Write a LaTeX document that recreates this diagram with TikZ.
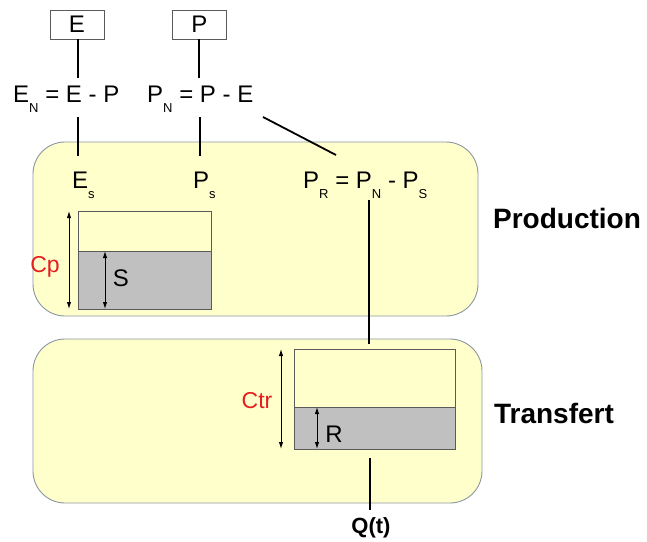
\documentclass[tikz,border=0pt]{standalone}
\usepackage{fontspec}
\setmainfont{Liberation Sans}
\usetikzlibrary{arrows.meta}
\definecolor{boxfill}{RGB}{255,255,204}
\definecolor{boxline}{RGB}{140,150,160}
\definecolor{tankgray}{RGB}{192,192,192}
\definecolor{tankline}{RGB}{90,90,90}
\definecolor{labred}{RGB}{230,30,30}
\newcommand{\lsub}[1]{\raisebox{-0.42em}{\fontsize{13}{13}\selectfont #1}}
\begin{document}
\begin{tikzpicture}[x=1pt,y=-1pt,
  region/.style={draw=boxline, fill=boxfill, line width=0.9pt, rounded corners=32pt, inner sep=0pt},
  txt/.style={inner sep=0pt, font=\fontsize{24}{24}\selectfont},
  topbox/.style={draw=tankline, line width=0.8pt, minimum width=54pt, minimum height=29pt, inner sep=0pt, font=\fontsize{24}{24}\selectfont},
  conn/.style={line width=1.8pt, black},
  dim/.style={line width=1pt, {Latex[length=7pt,width=4.5pt]}-{Latex[length=7pt,width=4.5pt]}},
  tankout/.style={draw=tankline, line width=0.9pt},
  title/.style={inner sep=0pt, font=\fontsize{28}{28}\selectfont\bfseries},
  redlab/.style={inner sep=0pt, text=labred, font=\fontsize{23}{23}\selectfont}
]
\useasboundingbox (0,0) rectangle (647,541);

% regions
\node[region, minimum width=445pt, minimum height=174pt] (prod) at (255.5,229) {};
\node[region, minimum width=449pt, minimum height=164pt] (trans) at (257.5,421) {};
\node[title] (prodlab) at (567,218) {Production};
\node[title] (translab) at (554,413) {Transfert};

% top boxes
\node[topbox] (E) at (77,24.5) {E};
\node[topbox] (P) at (199.5,24.5) {P};

% formulas
\node[txt, anchor=base west] (EN) at (13,102) {E\lsub{N} = E - P};
\node[txt, anchor=base west] (PN) at (147,102) {P\lsub{N} = P - E};
\node[txt, anchor=base west] (Es) at (72,188) {E\lsub{s}};
\node[txt, anchor=base west] (Ps) at (193,188) {P\lsub{s}};
\node[txt, anchor=base west] (PR) at (303,188) {P\lsub{R} = P\lsub{N} - P\lsub{S}};

% production tank
\node[fill=boxfill, minimum width=133pt, minimum height=40pt, inner sep=0pt] (ptop) at (144.5,231) {};
\node[fill=tankgray, minimum width=133pt, minimum height=58pt, inner sep=0pt] (pbot) at (144.5,280) {};
\draw[tankout] (78,211) rectangle (211,309);
\draw[tankout] (78,251) -- (211,251);

% transfer tank
\node[fill=boxfill, minimum width=161pt, minimum height=58pt, inner sep=0pt] (ttop) at (374.5,378) {};
\node[fill=tankgray, minimum width=161pt, minimum height=42pt, inner sep=0pt] (tbot) at (374.5,428) {};
\draw[tankout] (294,349) rectangle (455,449);
\draw[tankout] (294,407) -- (455,407);

% coordinates for connectors
\coordinate (e1) at (78,78);
\coordinate (e2) at (78,117);
\coordinate (e3) at (78,156);
\coordinate (p1) at (199,39);
\coordinate (p2) at (199,78);
\coordinate (p3) at (200,117);
\coordinate (p4) at (200,156);
\coordinate (d1) at (263,117);
\coordinate (d2) at (336,155);
\coordinate (r1) at (369,200);
\coordinate (r2) at (369,344);
\coordinate (q1) at (370,458);
\coordinate (q2) at (370,510);

\draw[conn] (E.south -| e1) -- (e1);
\draw[conn] (e2) -- (e3);
\draw[conn] (p1) -- (p2);
\draw[conn] (p3) -- (p4);
\draw[conn] (d1) -- (d2);
\draw[conn] (r1) -- (r2);
\draw[conn] (q1) -- (q2);

% dimension arrows
\coordinate (cp1) at (69,211);
\coordinate (cp2) at (69,309);
\coordinate (s1) at (105,251);
\coordinate (s2) at (105,309);
\coordinate (ct1) at (281,349);
\coordinate (ct2) at (281,449);
\coordinate (rr1) at (317,407);
\coordinate (rr2) at (317,449);
\draw[dim] (cp1) -- (cp2);
\draw[dim] (s1) -- (s2);
\draw[dim] (ct1) -- (ct2);
\draw[dim] (rr1) -- (rr2);

\node[redlab] (Cp) at (45,267) {Cp};
\node[txt] (S) at (121,278) {S};
\node[redlab] (Ctr) at (257,401) {Ctr};
\node[txt] (R) at (334,434) {R};

\node[inner sep=0pt, font=\fontsize{22}{22}\selectfont\bfseries] (Q) at (371,528) {Q(t)};
\end{tikzpicture}
\end{document}
